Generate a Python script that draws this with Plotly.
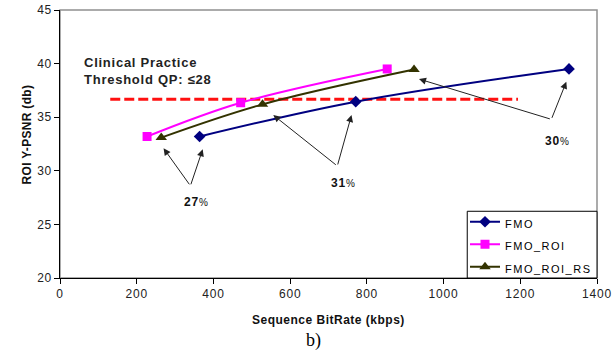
import plotly.graph_objects as go

# ---- data ----
fmo_x = [364, 771, 1327]
fmo_y = [33.2, 36.45, 39.5]
roi_x = [227, 471, 853]
roi_y = [33.2, 36.35, 39.5]
rs_x = [264, 528, 923]
rs_y = [33.1, 36.2, 39.45]

thr_x = [131, 1194]
thr_y = [36.67, 36.67]

x_ticks = [0, 200, 400, 600, 800, 1000, 1200, 1400]
y_ticks = [20, 25, 30, 35, 40, 45]

series_names = ["FMO", "FMO_ROI", "FMO_ROI_RS"]

# arrow groups: label number, label position, vertex, heads
arrow_labels = ["27", "31", "30"]
label_pos = [(354, 27.1), (738, 28.86), (1296, 32.78)]
vertex_pos = [(340, 28.6), (723, 30.45), (1281, 34.8)]
head_pos = [[(270, 32.1), (372, 32.0)],
            [(556, 35.2), (760, 35.2)],
            [(936, 38.56), (1320, 38.3)]]

FONT = "Arial, Liberation Sans, sans-serif"


def legend_name(s):
    return "<span style='font-size:11px;letter-spacing:1.5px'>" + s + "</span>"


fig = go.Figure()

fig.add_trace(go.Scatter(x=thr_x, y=thr_y, mode="lines", showlegend=False,
                         line=dict(color="#ff1010", width=3, dash="10px,4px")))

fig.add_trace(go.Scatter(x=fmo_x, y=fmo_y, name=legend_name(series_names[0]), mode="lines+markers",
                         line=dict(color="#000080", width=2, shape="spline"),
                         marker=dict(symbol="diamond", size=9, color="#000080")))
fig.add_trace(go.Scatter(x=roi_x, y=roi_y, name=legend_name(series_names[1]), mode="lines+markers",
                         line=dict(color="#ff00ff", width=2, shape="spline"),
                         marker=dict(symbol="square", size=9, color="#ff00ff")))
fig.add_trace(go.Scatter(x=rs_x, y=rs_y, name=legend_name(series_names[2]), mode="lines+markers",
                         line=dict(color="#333300", width=2, shape="spline"),
                         marker=dict(symbol="triangle-up", size=10, color="#333300")))

annotations = []
for lab, (lx, ly), (vx, vy), heads in zip(arrow_labels, label_pos, vertex_pos, head_pos):
    for hx, hy in heads:
        annotations.append(dict(x=hx, y=hy, ax=vx, ay=vy, xref="x", yref="y",
                                axref="x", ayref="y", text="", showarrow=True,
                                arrowhead=2, arrowsize=1.4, arrowwidth=1,
                                arrowcolor="#222222"))
    annotations.append(dict(x=lx, y=ly, xref="x", yref="y", showarrow=False,
                            text="<span style='letter-spacing:0.8px'><b>" + lab +
                                 "</b></span><span style='font-size:10px'>%</span>",
                            font=dict(family=FONT, size=12, color="#111111")))

annotations.append(dict(x=58, y=39.3, xref="x", yref="y", showarrow=False,
                        xanchor="left", yanchor="middle", align="left",
                        text="<span style='letter-spacing:0.75px'><b>Clinical Practice<br>Threshold QP: \u226428</b></span>",
                        font=dict(family=FONT, size=13, color="#222222")))

L, R, T, B = 59.5, 18.5, 10, 74.7
W, H = 616, 353
pw = W - L - R
ph = H - T - B


def px(xp):
    return (xp - L) / pw


def py(yp):
    return (H - B - yp) / ph


# axis titles
annotations.append(dict(x=px(26), y=py(135), xref="paper", yref="paper", showarrow=False,
                        textangle=-90, xanchor="center", yanchor="middle",
                        text="<span style='letter-spacing:0.3px'><b>ROI Y-PSNR (db)</b></span>",
                        font=dict(family=FONT, size=12, color="#111111")))
annotations.append(dict(x=px(328.5), y=py(320), xref="paper", yref="paper", showarrow=False,
                        xanchor="center", yanchor="middle",
                        text="<span style='letter-spacing:0.5px'><b>Sequence BitRate (kbps)</b></span>",
                        font=dict(family=FONT, size=12, color="#111111")))
annotations.append(dict(x=px(313.5), y=py(341), xref="paper", yref="paper", showarrow=False,
                        xanchor="center", yanchor="middle", text="b)",
                        font=dict(family="Liberation Serif, Times New Roman, serif",
                                  size=18, color="#000000")))

x_ticktext = ["<span style='letter-spacing:0.8px'>%d</span>" % v for v in x_ticks]
y_ticktext = ["<span style='letter-spacing:0.5px'>%d</span>" % v for v in y_ticks]

shapes = [
    dict(type="rect", xref="x domain", yref="y domain", x0=0, x1=1, y0=0, y1=1,
         line=dict(color="#909090", width=1.5), layer="below"),
    # legend frame
    dict(type="rect", xref="paper", yref="paper", x0=px(467.5), x1=1, y0=0, y1=py(211.5),
         line=dict(color="#000000", width=1), fillcolor="white", layer="above"),
]

fig.update_layout(
    width=W, height=H,
    margin=dict(l=L, r=R, t=T, b=B, autoexpand=False),
    paper_bgcolor="white", plot_bgcolor="white",
    font=dict(family=FONT, size=12, color="#000000"),
    showlegend=True,
    legend=dict(x=1, xanchor="right", y=-5.5 / ph, yanchor="bottom",
                bgcolor="rgba(0,0,0,0)", borderwidth=0,
                font=dict(family=FONT, size=15, color="#000000"),
                tracegroupgap=0, itemwidth=30),
    xaxis=dict(range=[0, 1400], tickvals=x_ticks, ticktext=x_ticktext,
               showgrid=False, zeroline=False, automargin=False,
               showline=True, linecolor="#000000", linewidth=1,
               ticks="outside", ticklen=5, tickcolor="#000000",
               tickfont=dict(family=FONT, size=12, color="#222222")),
    yaxis=dict(range=[20, 45], tickvals=y_ticks, ticktext=y_ticktext,
               showgrid=False, zeroline=False, automargin=False,
               showline=True, linecolor="#000000", linewidth=1,
               ticks="outside", ticklen=5, tickcolor="#000000",
               tickfont=dict(family=FONT, size=12, color="#222222")),
    shapes=shapes,
    annotations=annotations,
)

fig.write_html("out.html")
